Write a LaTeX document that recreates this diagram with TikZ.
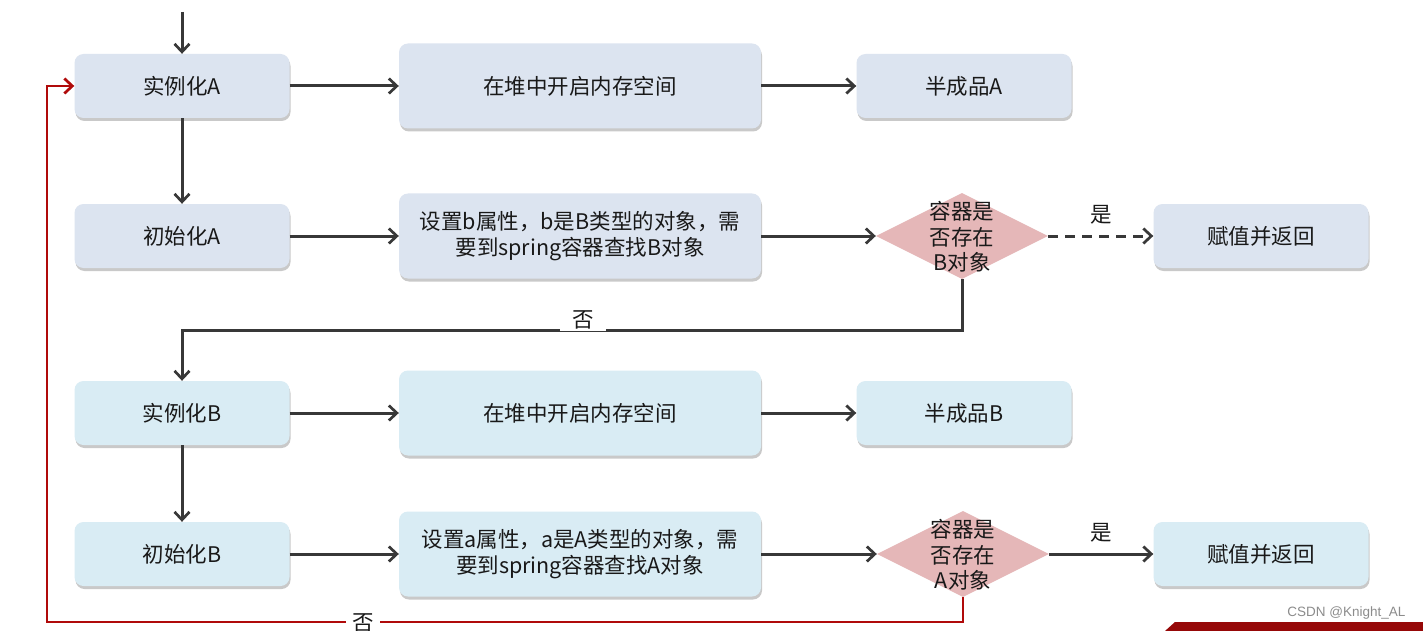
\documentclass[tikz,border=0pt]{standalone}
\usepackage{fontspec}
\setmainfont{Noto Sans CJK SC}
\newfontfamily\wmfont{Liberation Sans}
\usetikzlibrary{shapes.geometric,arrows.meta,shadows}
\definecolor{boxA}{HTML}{DCE4F0}
\definecolor{boxB}{HTML}{D9ECF4}
\definecolor{dia}{HTML}{E5B7B8}
\definecolor{ln}{HTML}{383838}
\definecolor{rd}{HTML}{B00A0A}
\begin{document}
\begin{tikzpicture}[x=1pt,y=-1pt,
  font=\fontsize{21.5}{25.5}\selectfont,
  base/.style={rounded corners=9pt, draw=none, text=black!90,
    drop shadow={shadow xshift=1pt, shadow yshift=-3pt, opacity=0.35, fill=black!60},
    align=center, inner sep=0pt},
  small/.style={base, minimum width=215pt, minimum height=64pt},
  big/.style={base, minimum width=362pt, minimum height=85pt},
  dec/.style={diamond, fill=dia, minimum width=172pt, minimum height=86pt, inner sep=0pt, aspect=2},
  arr/.style={draw=ln, line width=3pt, -{Straight Barb[length=8pt,width=15pt,line width=2.7pt]}},
  rarr/.style={draw=rd, line width=2.8pt, -{Straight Barb[length=8pt,width=15pt,line width=2.7pt]}},
  lbl/.style={fill=white, inner ysep=2pt, text=black!90},
  dtext/.style={align=center, inner sep=0pt, text=black!90, font=\fontsize{21.5}{25.5}\selectfont}
]
\useasboundingbox[fill=white] (0,0) rectangle (1423,631);

% row A1
\node[small, fill=boxA] (ia) at (182,86) {实例化A};
\node[big, fill=boxA] (ha) at (580,86) {在堆中开启内存空间};
\node[small, fill=boxA] (pa) at (964,86) {半成品A};
% row A2
\node[small, fill=boxA] (ca) at (182,236) {初始化A};
\node[big, fill=boxA] (sa) at (580,236) {设置b属性，b是B类型的对象，需\\要到spring容器查找B对象};
\node[dec] (da) at (962,236) {};
\node[dtext] (dta) at (962,237) {容器是\\否存在\\B对象};
\node[small, fill=boxA] (ra) at (1261,236) {赋值并返回};
% row B1
\node[small, fill=boxB] (ib) at (182,413) {实例化B};
\node[big, fill=boxB] (hb) at (580,413) {在堆中开启内存空间};
\node[small, fill=boxB] (pb) at (964,413) {半成品B};
% row B2
\node[small, fill=boxB] (cb) at (182,554) {初始化B};
\node[big, fill=boxB] (sb) at (580,554) {设置a属性，a是A类型的对象，需\\要到spring容器查找A对象};
\node[dec] (db) at (963,554) {};
\node[dtext] (dtb) at (963,555) {容器是\\否存在\\A对象};
\node[small, fill=boxB] (rb) at (1261,554) {赋值并返回};

% start arrow
\coordinate (st) at (182,12);
\draw[arr] (st) -- (ia.north);

% row A arrows
\draw[arr] (ia) -- (ha);
\draw[arr] (ha) -- (pa);
\draw[arr] (ia) -- (ca);
\draw[arr] (ca) -- (sa);
\draw[arr] (sa) -- (da);
\draw[arr, dash pattern=on 10pt off 7pt] (da.east) -- node[above=10pt, inner sep=0pt, text=black!90]{是} (ra);

% no -> B
\draw[arr] (da.south) |- (400,330) -| (ib.north);
\node[lbl, inner xsep=12pt] at (583,320) {否};

% row B arrows
\draw[arr] (ib) -- (hb);
\draw[arr] (hb) -- (pb);
\draw[arr] (ib) -- (cb);
\draw[arr] (cb) -- (sb);
\draw[arr] (sb) -- (db);
\draw[arr] (db.east) -- node[above=10pt, inner sep=0pt, text=black!90]{是} (rb);

% red back loop
\coordinate (bl) at (47,622);
\draw[rarr] (db.south) |- (bl) |- (ia.west);
\node[lbl, inner xsep=6pt, inner ysep=1pt] at (363,623) {否};

% watermark and bottom bar
\node[font=\wmfont\fontsize{13.5}{15}\selectfont, text=black!45, anchor=east] (wm) at (1409,613) {CSDN @Knight\_AL};
\fill[rd!85!black] (1175,622) -- (1423,622) -- (1423,631) -- (1165,631) -- cycle;
\end{tikzpicture}
\end{document}
